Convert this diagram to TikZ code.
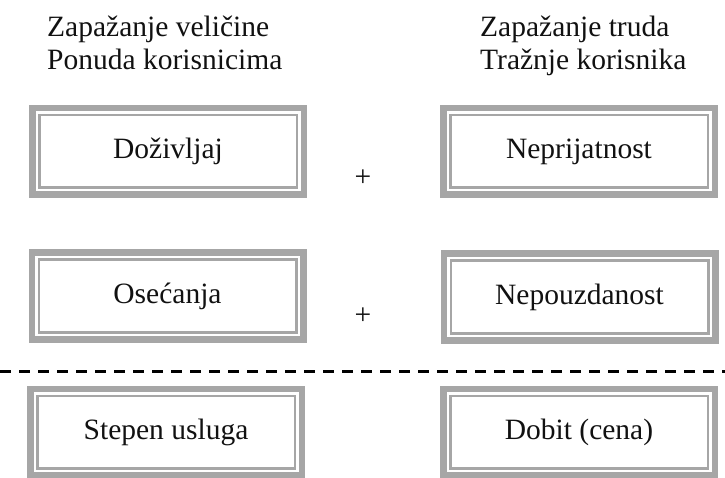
\documentclass[tikz,border=0pt]{standalone}
\usepackage{fontspec}
\setmainfont{Liberation Serif}
\usepackage{xcolor}
\usepackage{tikz}
\usetikzlibrary{calc}
\definecolor{FrameGray}{HTML}{A6A6A6}
\definecolor{TextDark}{HTML}{111111}

\begin{document}
\begin{tikzpicture}[x=1pt,y=1pt,
                    every node/.style={font=\fontsize{29.5pt}{32.5pt}\selectfont,text=TextDark},
                    framebx/.style={draw=FrameGray,line width=6.5pt,outer sep=0pt,inner sep=0pt,
                                    minimum width=271.5pt,minimum height=86.5pt},
                    innerln/.style={draw=FrameGray,line width=2.5pt},
                    sepline/.style={line width=3pt,dash pattern=on 11pt off 8pt}]
      \useasboundingbox (0,0) rectangle (725,477);
      % column headers
      \node[anchor=base west,inner sep=0pt] (hl1) at (47,440)   {Zapažanje veličine};
      \node[anchor=base west,inner sep=0pt] (hl2) at (47,407.5) {Ponuda korisnicima};
      \node[anchor=base west,inner sep=0pt] (hr1) at (480,440)   {Zapažanje truda};
      \node[anchor=base west,inner sep=0pt] (hr2) at (480,407.5) {Tražnje korisnika};
      % framed boxes
      \node[framebx] (doz)  at (168,325.5) {Doživljaj};
      \node[framebx] (nepr) at (579,325.5) {Neprijatnost};
      \node[framebx] (ose)  at (167.5,181) {Osećanja};
      \node[framebx] (nepo) at (579.5,180) {Nepouzdanost};
      \node[framebx] (ste)  at (166,45) {Stepen usluga};
      \node[framebx] (dob)  at (579,45) {Dobit (cena)};
      \foreach \n in {doz,nepr,ose,nepo,ste,dob}
        \draw[innerln] ($(\n.north west)+(7,-7)$) rectangle ($(\n.south east)+(-7,7)$);
      % plus signs
      \node (p1) at (363,299) {+};
      \node (p2) at (363,161) {+};
      % dividing line
      \coordinate (dl) at (0,106);
      \coordinate (dr) at (725,106);
      \draw[sepline] (dl)--(dr);
    \end{tikzpicture}
\end{document}
